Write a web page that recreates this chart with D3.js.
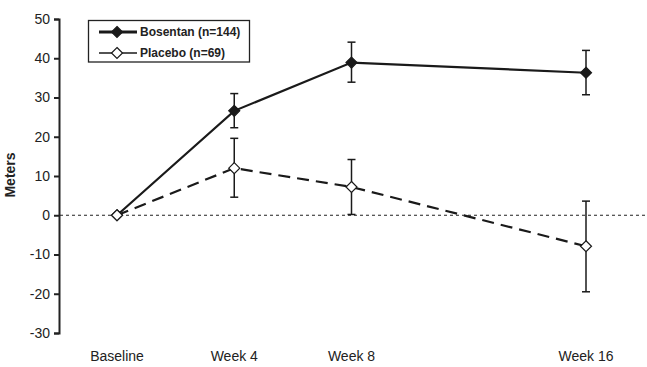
<!DOCTYPE html>
<html><head><meta charset="utf-8">
<script src="https://cdn.jsdelivr.net/npm/d3@7"></script>
<style>body{margin:0;background:#fff}svg{display:block}text{font-family:"Liberation Sans",Arial,sans-serif;fill:#222}</style>
</head><body>
<script>
const weeks = [0, 4, 8, 16];
const categories = ["Baseline", "Week 4", "Week 8", "Week 16"];
const bosentanMean = [0, 26.6, 38.9, 36.3];
const bosentanLow = [null, 22.3, 33.9, 30.7];
const bosentanHigh = [null, 31.0, 44.1, 42.0];
const placeboMean = [0, 12.0, 7.2, -7.9];
const placeboLow = [null, 4.6, 0.2, -19.5];
const placeboHigh = [null, 19.6, 14.2, 3.6];
const yTicks = [50, 40, 30, 20, 10, 0, -10, -20, -30];
const seriesNames = ["Bosentan (n=144)", "Placebo (n=69)"];

const W = 647, H = 367;
const svg = d3.select("body").append("svg").attr("width", W).attr("height", H);
const x = d3.scaleLinear().domain([0, 16]).range([117, 586]);
const y = d3.scaleLinear().domain([-30, 50]).range([333, 19]);

// y axis
const yAxis = d3.axisLeft(y).tickValues(yTicks).tickSize(5).tickPadding(4).tickFormat(d => String(d));
const ga = svg.append("g").attr("transform", "translate(59,0)").call(yAxis);
ga.select(".domain").attr("stroke", "#222").attr("stroke-width", 2);
ga.selectAll(".tick line").attr("stroke", "#222").attr("stroke-width", 2);
ga.selectAll(".tick text").attr("font-size", 14).attr("fill", "#222").attr("font-family", "Liberation Sans, Arial, sans-serif");

// y title
svg.append("text").attr("transform", "translate(15,175) rotate(-90)").attr("text-anchor", "middle")
  .attr("font-size", 14).attr("font-weight", "bold").text("Meters");

// x labels
svg.selectAll(".xl").data(categories).enter().append("text")
  .attr("x", (d, i) => x(weeks[i])).attr("y", 361).attr("text-anchor", "middle")
  .attr("font-size", 14).text(d => d);

// zero line
svg.append("line").attr("x1", 60).attr("x2", W).attr("y1", y(0)).attr("y2", y(0))
  .attr("stroke", "#222").attr("stroke-width", 1.2).attr("stroke-dasharray", "3,3");

function drawSeries(mean, low, high, dash, fill) {
  const pts = weeks.map((w, i) => ({w, m: mean[i], lo: low[i], hi: high[i]}));
  const g = svg.append("g");
  g.append("path").datum(pts)
    .attr("d", d3.line().x(d => x(d.w)).y(d => y(d.m)))
    .attr("fill", "none").attr("stroke", "#1a1a1a").attr("stroke-width", 2.2)
    .attr("stroke-dasharray", dash);
  const eb = pts.filter(d => d.lo !== null);
  g.selectAll(".eb").data(eb).enter().append("line")
    .attr("x1", d => x(d.w)).attr("x2", d => x(d.w)).attr("y1", d => y(d.lo)).attr("y2", d => y(d.hi))
    .attr("stroke", "#1a1a1a").attr("stroke-width", 1.5);
  ["lo", "hi"].forEach(k => {
    g.selectAll(".cap" + k).data(eb).enter().append("line")
      .attr("x1", d => x(d.w) - 4).attr("x2", d => x(d.w) + 4).attr("y1", d => y(d[k])).attr("y2", d => y(d[k]))
      .attr("stroke", "#1a1a1a").attr("stroke-width", 1.5);
  });
  g.selectAll(".mk").data(pts).enter().append("path")
    .attr("transform", d => `translate(${x(d.w)},${y(d.m)})`)
    .attr("d", "M0,-5.5L5.5,0L0,5.5L-5.5,0Z")
    .attr("fill", fill).attr("stroke", "#1a1a1a").attr("stroke-width", 1.2);
}
drawSeries(bosentanMean, bosentanLow, bosentanHigh, null, "#1a1a1a");
drawSeries(placeboMean, placeboLow, placeboHigh, "12,7", "#fff");

// legend
const lg = svg.append("g");
lg.append("rect").attr("x", 88.5).attr("y", 20.5).attr("width", 161).attr("height", 41.5)
  .attr("fill", "#fff").attr("stroke", "#222").attr("stroke-width", 1.3);
const legendStyles = [{sw: 3, fill: "#1a1a1a"}, {sw: 1.5, fill: "#fff"}];
seriesNames.forEach((name, i) => {
  const cy = 32 + i * 21;
  lg.append("line").attr("x1", 99).attr("x2", 137).attr("y1", cy).attr("y2", cy)
    .attr("stroke", "#1a1a1a").attr("stroke-width", legendStyles[i].sw);
  lg.append("path").attr("transform", `translate(117,${cy})`).attr("d", "M0,-5.5L5.5,0L0,5.5L-5.5,0Z")
    .attr("fill", legendStyles[i].fill).attr("stroke", "#1a1a1a").attr("stroke-width", 1.2);
  lg.append("text").attr("x", 140).attr("y", cy + 4).attr("font-size", 12).attr("font-weight", "bold").text(name);
});
</script>
</body></html>
